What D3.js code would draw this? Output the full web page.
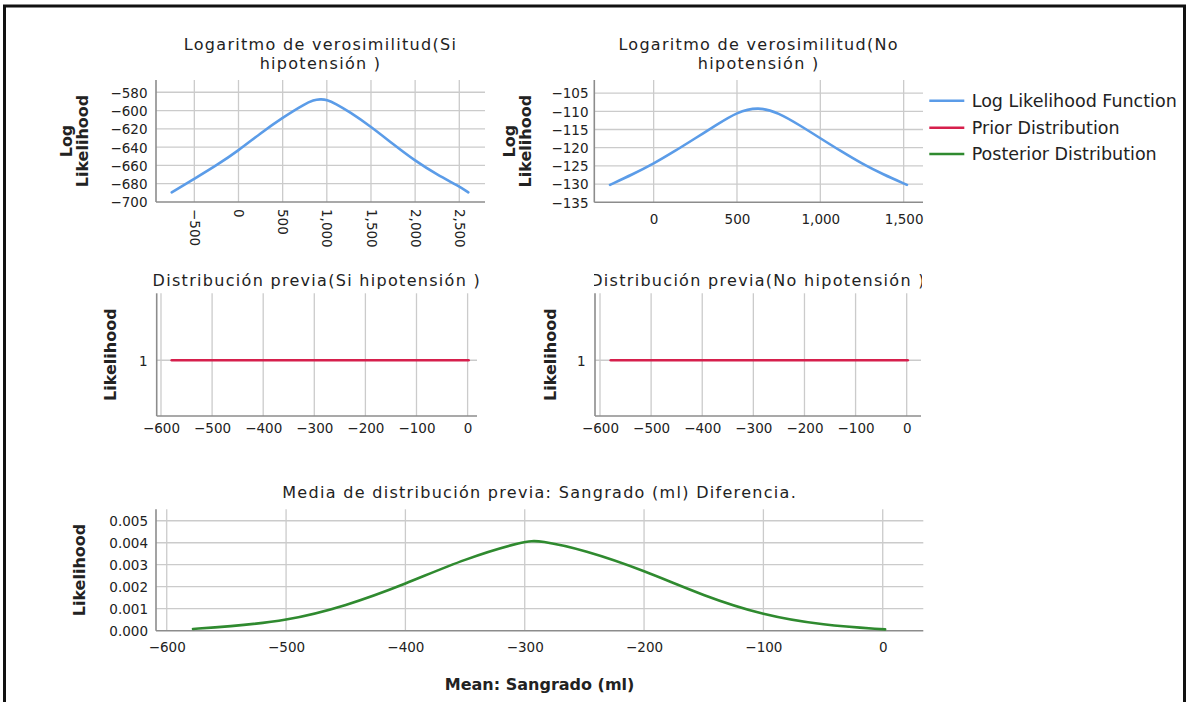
<!DOCTYPE html>
<html>
<head>
<meta charset="utf-8">
<script src="https://cdn.jsdelivr.net/npm/d3@7"></script>
<style>
  html, body { margin: 0; padding: 0; background: #fff; }
  svg { display: block; }
</style>
</head>
<body>
<svg id="chart" width="1188" height="702"></svg>
<script>
// Log-likelihood of the mean difference, group "Si hipotensión"
const llSiX = [-756, -500, -250, 0, 250, 500, 750, 850, 924, 1000, 1100, 1250, 1500, 1750, 2000, 2250, 2500, 2602];
const llSiY = [-689.5, -674.6, -660, -643.7, -624.7, -607.7, -592.8, -588.6, -587.5, -588, -592.5, -601, -617.5, -636.7, -655, -670.2, -683, -689.5];

// Log-likelihood of the mean difference, group "No hipotensión"
const llNoX = [-262, -125, 0, 125, 250, 375, 500, 628, 750, 875, 1000, 1125, 1250, 1375, 1520];
const llNoY = [-130.2, -127.3, -124.4, -121, -117.4, -113.8, -110.2, -108.75, -110.4, -113.8, -117.4, -121, -124.4, -127.3, -130.2];

// Flat prior on the mean difference (both groups)
const priorX = [-579, 2];
const priorY = [1, 1];

// Posterior density of the mean difference
const postX = [-578, -550, -500, -450, -400, -350, -300, -288, -250, -200, -150, -100, -50, 2];
const postY = [0.00008, 0.00018, 0.00044, 0.00112, 0.00212, 0.00328, 0.00408, 0.00411, 0.00367, 0.00274, 0.00158, 0.0007, 0.00025, 0.00006];

// Tick values
const ticksTopLeftX = [-500, 0, 500, 1000, 1500, 2000, 2500];
const ticksTopLeftY = [-700, -680, -660, -640, -620, -600, -580];
const ticksTopRightX = [0, 500, 1000, 1500];
const ticksTopRightY = [-135, -130, -125, -120, -115, -110, -105];
const ticksPriorX = [-600, -500, -400, -300, -200, -100, 0];
const ticksPriorY = [1];
const ticksPostX = [-600, -500, -400, -300, -200, -100, 0];
const ticksPostY = [0, 0.001, 0.002, 0.003, 0.004, 0.005];

// Legend entries
const legendLabels = ["Log Likelihood Function", "Prior Distribution", "Posterior Distribution"];
const colors = { ll: "#5b9ce8", prior: "#d61f4c", post: "#2f8a2f" };
const legendColors = [colors.ll, colors.prior, colors.post];

const FONT = "DejaVu Sans";
const TEXT = "#222";
const GRID = "#cbcbcb";
const AXIS = "#8c8c8c";

const svg = d3.select("#chart");
svg.append("rect").attr("x", 0).attr("y", 0).attr("width", 1188).attr("height", 702).attr("fill", "#fff");

// Outer frame
svg.append("rect")
  .attr("x", 4.5).attr("y", 6).attr("width", 1180).attr("height", 740)
  .attr("fill", "none").attr("stroke", "#111").attr("stroke-width", 3);

const defs = svg.append("defs");

function panel(cfg) {
  const g = svg.append("g");
  const x = d3.scaleLinear().domain(cfg.xDomain).range([cfg.x0, cfg.x1]);
  const y = d3.scaleLinear().domain(cfg.yDomain).range([cfg.y1, cfg.y0]);

  // grid lines
  g.append("g").selectAll("line").data(cfg.xTicks).join("line")
    .attr("x1", d => x(d)).attr("x2", d => x(d))
    .attr("y1", cfg.y0).attr("y2", cfg.y1)
    .attr("stroke", GRID).attr("stroke-width", 1.3);
  g.append("g").selectAll("line").data(cfg.yTicks.filter(v => y(v) < cfg.y1 - 1)).join("line")
    .attr("x1", cfg.x0).attr("x2", cfg.x1)
    .attr("y1", d => y(d)).attr("y2", d => y(d))
    .attr("stroke", GRID).attr("stroke-width", 1.3);

  // axis lines
  g.append("line").attr("x1", cfg.x0).attr("x2", cfg.x0).attr("y1", cfg.y0).attr("y2", cfg.y1)
    .attr("stroke", AXIS).attr("stroke-width", 1.6);
  g.append("line").attr("x1", cfg.x0).attr("x2", cfg.x1).attr("y1", cfg.y1).attr("y2", cfg.y1)
    .attr("stroke", AXIS).attr("stroke-width", 1.6);

  // y tick labels
  const ya = g.append("g").attr("transform", `translate(${cfg.yLabelRight},0)`)
    .call(d3.axisLeft(y).tickValues(cfg.yTicks).tickSize(0).tickPadding(0).tickFormat(cfg.yFormat));
  ya.select(".domain").remove();
  ya.selectAll("text").attr("x", 0).attr("dy", "0.36em")
    .attr("font-family", FONT).attr("font-size", 13.5).attr("fill", TEXT);

  // x tick labels
  const xa = g.append("g").attr("transform", `translate(0,${cfg.xLabelY})`)
    .call(d3.axisBottom(x).tickValues(cfg.xTicks).tickSize(0).tickPadding(0).tickFormat(d3.format(",")));
  xa.select(".domain").remove();
  xa.selectAll("text").attr("font-family", FONT).attr("font-size", 13.5).attr("fill", TEXT);
  if (cfg.rotateX) {
    xa.selectAll("text").attr("x", 0).attr("y", 0).attr("dy", "0.36em")
      .attr("transform", "rotate(90)").attr("text-anchor", "start");
  } else {
    xa.selectAll("text").attr("y", 0).attr("dy", 0);
  }
  ya.attr("font-size", null).attr("font-family", null);
  xa.attr("font-size", null).attr("font-family", null);

  // y axis title (possibly two lines)
  const cy = (cfg.y0 + cfg.y1) / 2;
  cfg.yTitle.forEach((t, i) => {
    g.append("text")
      .attr("transform", `translate(${cfg.yTitleX[i]},${cy}) rotate(-90)`)
      .attr("text-anchor", "middle")
      .attr("font-family", FONT).attr("font-weight", "bold").attr("font-size", 16)
      .attr("fill", TEXT).text(t);
  });

  // panel title
  const tg = g.append("g");
  if (cfg.clip) {
    const id = "clip" + Math.round(cfg.x0);
    defs.append("clipPath").attr("id", id).append("rect")
      .attr("x", cfg.clip[0]).attr("width", cfg.clip[1] - cfg.clip[0])
      .attr("y", cfg.titleY[0] - 20).attr("height", 30);
    tg.attr("clip-path", `url(#${id})`);
  }
  const cx = (cfg.x0 + cfg.x1) / 2;
  cfg.title.forEach((t, i) => {
    tg.append("text").attr("x", cx).attr("y", cfg.titleY[i])
      .attr("text-anchor", "middle")
      .attr("font-family", FONT).attr("font-size", 16).attr("letter-spacing", 1.3)
      .attr("fill", TEXT).text(t);
  });

  // data line
  const pts = cfg.xs.map((v, i) => [v, cfg.ys[i]]);
  g.append("path").datum(pts)
    .attr("d", d3.line().x(d => x(d[0])).y(d => y(d[1])).curve(d3.curveBasis))
    .attr("fill", "none").attr("stroke", cfg.color).attr("stroke-width", 2.6)
    .attr("stroke-linecap", "round");
  return { x, y };
}

const fmtInt = d3.format(",");

panel({
  x0: 156, x1: 485, y0: 80, y1: 202,
  xDomain: [-934, 2791], yDomain: [-700, -566.6],
  xTicks: ticksTopLeftX, yTicks: ticksTopLeftY, yFormat: fmtInt,
  yLabelRight: 147.5, xLabelY: 209, rotateX: true,
  yTitle: ["Log", "Likelihood"], yTitleX: [72, 88],
  title: ["Logaritmo de verosimilitud(Si", "hipotensión )"], titleY: [50.3, 69.3],
  xs: llSiX, ys: llSiY, color: colors.ll
});

panel({
  x0: 594.3, x1: 923, y0: 80, y1: 202.3,
  xDomain: [-356, 1616], yDomain: [-135, -101.4],
  xTicks: ticksTopRightX, yTicks: ticksTopRightY, yFormat: fmtInt,
  yLabelRight: 588.5, xLabelY: 224, rotateX: false,
  yTitle: ["Log", "Likelihood"], yTitleX: [515, 531],
  title: ["Logaritmo de verosimilitud(No", "hipotensión )"], titleY: [50.3, 69.3],
  xs: llNoX, ys: llNoY, color: colors.ll
});

panel({
  x0: 156.7, x1: 477, y0: 293.3, y1: 416,
  xDomain: [-608.4, 18.4], yDomain: [0, 2.2],
  xTicks: ticksPriorX, yTicks: ticksPriorY, yFormat: fmtInt,
  yLabelRight: 147.5, xLabelY: 432.7, rotateX: false,
  yTitle: ["Likelihood"], yTitleX: [116],
  title: ["Distribución previa(Si hipotensión )"], titleY: [285.7],
  xs: priorX, ys: priorY, color: colors.prior
});

panel({
  x0: 595, x1: 921, y0: 293.3, y1: 416,
  xDomain: [-609.8, 28], yDomain: [0, 2.2],
  xTicks: ticksPriorX, yTicks: ticksPriorY, yFormat: fmtInt,
  yLabelRight: 585.5, xLabelY: 432.7, rotateX: false,
  yTitle: ["Likelihood"], yTitleX: [556],
  title: ["Distribución previa(No hipotensión )"], titleY: [285.7], clip: [594, 922],
  xs: priorX, ys: priorY, color: colors.prior
});

panel({
  x0: 156, x1: 923.3, y0: 509.3, y1: 630.7,
  xDomain: [-609, 34], yDomain: [0, 0.00552],
  xTicks: ticksPostX, yTicks: ticksPostY, yFormat: d3.format(".3f"),
  yLabelRight: 148, xLabelY: 651.7, rotateX: false,
  yTitle: ["Likelihood"], yTitleX: [85],
  title: ["Media de distribución previa: Sangrado (ml) Diferencia."], titleY: [498.4],
  xs: postX, ys: postY, color: colors.post
});

// shared x axis title
svg.append("text").attr("x", 539.6).attr("y", 690)
  .attr("text-anchor", "middle")
  .attr("font-family", FONT).attr("font-weight", "bold").attr("font-size", 16)
  .attr("fill", TEXT).text("Mean: Sangrado (ml)");

// legend
const legendYs = [100.7, 127.7, 154];
const lg = svg.append("g");
legendLabels.forEach((t, i) => {
  lg.append("line").attr("x1", 929.3).attr("x2", 964.3)
    .attr("y1", legendYs[i]).attr("y2", legendYs[i])
    .attr("stroke", legendColors[i]).attr("stroke-width", 2.6);
  lg.append("text").attr("x", 971.7).attr("y", legendYs[i]).attr("dy", "0.36em")
    .attr("font-family", FONT).attr("font-size", 17.5).attr("fill", TEXT).text(t);
});
</script>
</body>
</html>
